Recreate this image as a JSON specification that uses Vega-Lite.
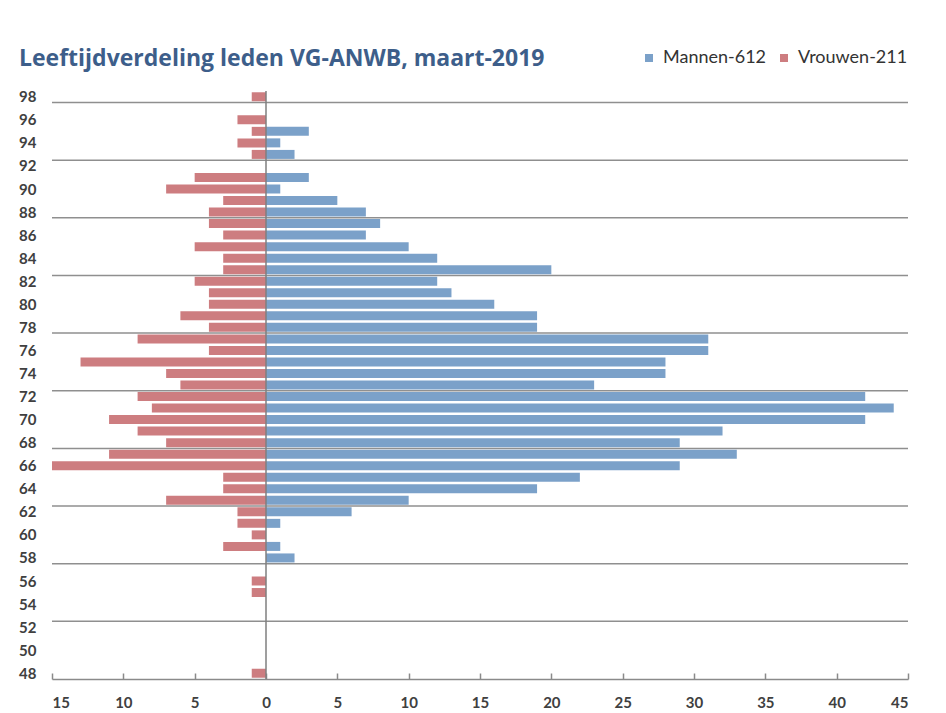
{
  "$schema": "https://vega.github.io/schema/vega-lite/v6.json",
  "width": 856,
  "height": 588,
  "autosize": {"type": "none"},
  "padding": {"left": 52, "top": 91, "right": 38, "bottom": 34},
  "background": "white",
  "title": {
    "text": "Leeftijdverdeling leden VG-ANWB, maart-2019",
    "anchor": "start",
    "frame": "group",
    "dx": -33,
    "dy": 26,
    "font": "Open Sans",
    "fontSize": 23,
    "fontWeight": "bold",
    "color": "#3D5E8A"
  },
  "config": {"view": {"stroke": null}, "axis": {"labelOverlap": false}, "axisY": {"labelOverlap": false}},
  "layer": [
    {
      "data": {"values": [{"g": 52.5}, {"g": 57.5}, {"g": 62.5}, {"g": 67.5}, {"g": 72.5}, {"g": 77.5}, {"g": 82.5}, {"g": 87.5}, {"g": 92.5}, {"g": 97.5}]},
      "mark": {"type": "rule", "color": "#8f8f8f", "strokeWidth": 1.5},
      "encoding": {
        "y": {
          "field": "g",
          "type": "quantitative",
          "scale": {"domain": [47.5, 98.5], "nice": false, "zero": false, "padding": 0},
          "title": null,
          "axis": {
            "values": [48, 50, 52, 54, 56, 58, 60, 62, 64, 66, 68, 70, 72, 74, 76, 78, 80, 82, 84, 86, 88, 90, 92, 94, 96, 98],
            "title": null,
            "grid": false,
            "ticks": false,
            "domain": false,
            "labelOverlap": false,
            "labelPadding": 16,
            "labelFont": "Lato",
            "labelFontSize": 15,
            "labelFontWeight": "bold",
            "labelColor": "#404040"
          }
        }
      }
    },
    {
      "data": {"values": [
        {"leeftijd": 95, "geslacht": "Mannen-612", "aantal": 3},
        {"leeftijd": 94, "geslacht": "Mannen-612", "aantal": 1},
        {"leeftijd": 93, "geslacht": "Mannen-612", "aantal": 2},
        {"leeftijd": 91, "geslacht": "Mannen-612", "aantal": 3},
        {"leeftijd": 90, "geslacht": "Mannen-612", "aantal": 1},
        {"leeftijd": 89, "geslacht": "Mannen-612", "aantal": 5},
        {"leeftijd": 88, "geslacht": "Mannen-612", "aantal": 7},
        {"leeftijd": 87, "geslacht": "Mannen-612", "aantal": 8},
        {"leeftijd": 86, "geslacht": "Mannen-612", "aantal": 7},
        {"leeftijd": 85, "geslacht": "Mannen-612", "aantal": 10},
        {"leeftijd": 84, "geslacht": "Mannen-612", "aantal": 12},
        {"leeftijd": 83, "geslacht": "Mannen-612", "aantal": 20},
        {"leeftijd": 82, "geslacht": "Mannen-612", "aantal": 12},
        {"leeftijd": 81, "geslacht": "Mannen-612", "aantal": 13},
        {"leeftijd": 80, "geslacht": "Mannen-612", "aantal": 16},
        {"leeftijd": 79, "geslacht": "Mannen-612", "aantal": 19},
        {"leeftijd": 78, "geslacht": "Mannen-612", "aantal": 19},
        {"leeftijd": 77, "geslacht": "Mannen-612", "aantal": 31},
        {"leeftijd": 76, "geslacht": "Mannen-612", "aantal": 31},
        {"leeftijd": 75, "geslacht": "Mannen-612", "aantal": 28},
        {"leeftijd": 74, "geslacht": "Mannen-612", "aantal": 28},
        {"leeftijd": 73, "geslacht": "Mannen-612", "aantal": 23},
        {"leeftijd": 72, "geslacht": "Mannen-612", "aantal": 42},
        {"leeftijd": 71, "geslacht": "Mannen-612", "aantal": 44},
        {"leeftijd": 70, "geslacht": "Mannen-612", "aantal": 42},
        {"leeftijd": 69, "geslacht": "Mannen-612", "aantal": 32},
        {"leeftijd": 68, "geslacht": "Mannen-612", "aantal": 29},
        {"leeftijd": 67, "geslacht": "Mannen-612", "aantal": 33},
        {"leeftijd": 66, "geslacht": "Mannen-612", "aantal": 29},
        {"leeftijd": 65, "geslacht": "Mannen-612", "aantal": 22},
        {"leeftijd": 64, "geslacht": "Mannen-612", "aantal": 19},
        {"leeftijd": 63, "geslacht": "Mannen-612", "aantal": 10},
        {"leeftijd": 62, "geslacht": "Mannen-612", "aantal": 6},
        {"leeftijd": 61, "geslacht": "Mannen-612", "aantal": 1},
        {"leeftijd": 59, "geslacht": "Mannen-612", "aantal": 1},
        {"leeftijd": 58, "geslacht": "Mannen-612", "aantal": 2},
        {"leeftijd": 98, "geslacht": "Vrouwen-211", "aantal": -1},
        {"leeftijd": 96, "geslacht": "Vrouwen-211", "aantal": -2},
        {"leeftijd": 95, "geslacht": "Vrouwen-211", "aantal": -1},
        {"leeftijd": 94, "geslacht": "Vrouwen-211", "aantal": -2},
        {"leeftijd": 93, "geslacht": "Vrouwen-211", "aantal": -1},
        {"leeftijd": 91, "geslacht": "Vrouwen-211", "aantal": -5},
        {"leeftijd": 90, "geslacht": "Vrouwen-211", "aantal": -7},
        {"leeftijd": 89, "geslacht": "Vrouwen-211", "aantal": -3},
        {"leeftijd": 88, "geslacht": "Vrouwen-211", "aantal": -4},
        {"leeftijd": 87, "geslacht": "Vrouwen-211", "aantal": -4},
        {"leeftijd": 86, "geslacht": "Vrouwen-211", "aantal": -3},
        {"leeftijd": 85, "geslacht": "Vrouwen-211", "aantal": -5},
        {"leeftijd": 84, "geslacht": "Vrouwen-211", "aantal": -3},
        {"leeftijd": 83, "geslacht": "Vrouwen-211", "aantal": -3},
        {"leeftijd": 82, "geslacht": "Vrouwen-211", "aantal": -5},
        {"leeftijd": 81, "geslacht": "Vrouwen-211", "aantal": -4},
        {"leeftijd": 80, "geslacht": "Vrouwen-211", "aantal": -4},
        {"leeftijd": 79, "geslacht": "Vrouwen-211", "aantal": -6},
        {"leeftijd": 78, "geslacht": "Vrouwen-211", "aantal": -4},
        {"leeftijd": 77, "geslacht": "Vrouwen-211", "aantal": -9},
        {"leeftijd": 76, "geslacht": "Vrouwen-211", "aantal": -4},
        {"leeftijd": 75, "geslacht": "Vrouwen-211", "aantal": -13},
        {"leeftijd": 74, "geslacht": "Vrouwen-211", "aantal": -7},
        {"leeftijd": 73, "geslacht": "Vrouwen-211", "aantal": -6},
        {"leeftijd": 72, "geslacht": "Vrouwen-211", "aantal": -9},
        {"leeftijd": 71, "geslacht": "Vrouwen-211", "aantal": -8},
        {"leeftijd": 70, "geslacht": "Vrouwen-211", "aantal": -11},
        {"leeftijd": 69, "geslacht": "Vrouwen-211", "aantal": -9},
        {"leeftijd": 68, "geslacht": "Vrouwen-211", "aantal": -7},
        {"leeftijd": 67, "geslacht": "Vrouwen-211", "aantal": -11},
        {"leeftijd": 66, "geslacht": "Vrouwen-211", "aantal": -15},
        {"leeftijd": 65, "geslacht": "Vrouwen-211", "aantal": -3},
        {"leeftijd": 64, "geslacht": "Vrouwen-211", "aantal": -3},
        {"leeftijd": 63, "geslacht": "Vrouwen-211", "aantal": -7},
        {"leeftijd": 62, "geslacht": "Vrouwen-211", "aantal": -2},
        {"leeftijd": 61, "geslacht": "Vrouwen-211", "aantal": -2},
        {"leeftijd": 60, "geslacht": "Vrouwen-211", "aantal": -1},
        {"leeftijd": 59, "geslacht": "Vrouwen-211", "aantal": -3},
        {"leeftijd": 56, "geslacht": "Vrouwen-211", "aantal": -1},
        {"leeftijd": 55, "geslacht": "Vrouwen-211", "aantal": -1},
        {"leeftijd": 48, "geslacht": "Vrouwen-211", "aantal": -1}
      ]},
      "mark": {"type": "bar", "orient": "horizontal", "size": 9},
      "encoding": {
        "y": {
          "field": "leeftijd",
          "type": "quantitative",
          "scale": {"domain": [47.5, 98.5], "nice": false, "zero": false, "padding": 0},
          "title": null,
          "axis": {
            "values": [48, 50, 52, 54, 56, 58, 60, 62, 64, 66, 68, 70, 72, 74, 76, 78, 80, 82, 84, 86, 88, 90, 92, 94, 96, 98],
            "title": null,
            "grid": false,
            "ticks": false,
            "domain": false,
            "labelOverlap": false,
            "labelPadding": 16,
            "labelFont": "Lato",
            "labelFontSize": 15,
            "labelFontWeight": "bold",
            "labelColor": "#404040"
          }
        },
        "x": {
          "field": "aantal",
          "type": "quantitative",
          "scale": {"domain": [-15, 45], "nice": false, "zero": false, "padding": 0},
          "title": null,
          "axis": {
            "values": [-15, -10, -5, 0, 5, 10, 15, 20, 25, 30, 35, 40, 45],
            "labelExpr": "format(abs(datum.value), 'd')",
            "labelOverlap": false,
            "title": null,
            "grid": false,
            "domainColor": "#8a8a8a",
            "domainWidth": 1.5,
            "tickColor": "#8a8a8a",
            "tickWidth": 1.5,
            "tickSize": -6,
            "labelPadding": 22,
            "labelFont": "Lato",
            "labelFontSize": 15,
            "labelFontWeight": "bold",
            "labelColor": "#404040"
          }
        },
        "color": {
          "field": "geslacht",
          "type": "nominal",
          "scale": {"domain": ["Mannen-612", "Vrouwen-211"], "range": ["#7BA1C9", "#CD7D80"]},
          "legend": {
            "orient": "none",
            "direction": "horizontal",
            "legendX": 588,
            "legendY": -42,
            "title": null,
            "symbolType": "square",
            "symbolSize": 64,
            "symbolStrokeWidth": 0,
            "labelOffset": 5,
            "columnPadding": 8,
            "labelFont": "Lato",
            "labelFontSize": 18,
            "labelColor": "#333333"
          }
        }
      }
    },
    {
      "data": {"values": [{}]},
      "mark": {"type": "rule", "color": "#7f7f7f", "strokeWidth": 1.5},
      "encoding": {"x": {"datum": 0, "title": null}}
    }
  ]
}
